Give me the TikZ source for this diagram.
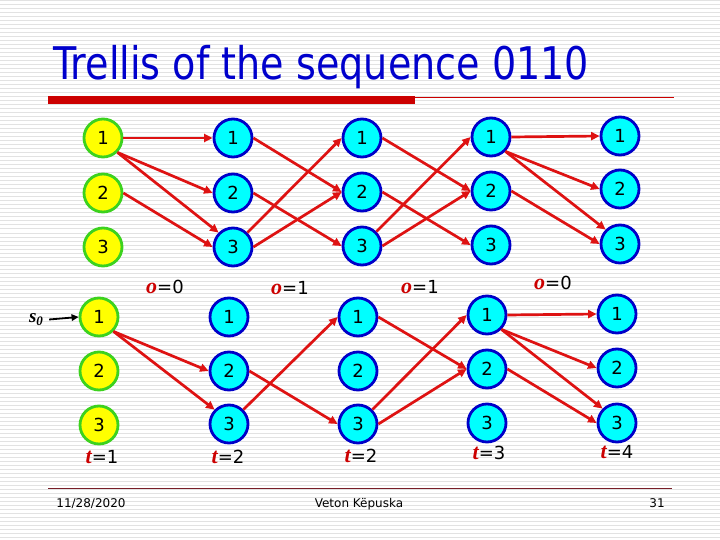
\documentclass[tikz,border=0pt]{standalone}
\usepackage{fontspec}
\setmainfont{DejaVu Sans}
\newfontfamily\tnr{Liberation Serif}
\usetikzlibrary{arrows.meta}
\definecolor{ared}{RGB}{222,18,18}
\definecolor{ngreen}{RGB}{60,210,30}
\definecolor{nblue}{RGB}{0,0,200}
\definecolor{ncyan}{RGB}{0,255,255}
\definecolor{nyellow}{RGB}{255,255,0}
\definecolor{tblue}{RGB}{0,0,204}
\definecolor{lred}{RGB}{204,0,0}
\definecolor{stripe}{RGB}{226,226,226}
\definecolor{footline}{RGB}{120,30,40}
\tikzset{
  basenode/.style={circle, line width=2.8pt, minimum size=38pt, inner sep=0pt, font=\fontsize{18}{18}\selectfont},
  ynode/.style={basenode, draw=ngreen, fill=nyellow},
  cnode/.style={basenode, draw=nblue, fill=ncyan},
  tedge/.style={draw=ared, line width=2.7pt, -{Triangle[length=8.5pt,width=8pt]}},
  lab/.style={anchor=base, inner sep=0pt, font=\fontsize{18}{18}\selectfont},
  foot/.style={anchor=base, inner sep=0pt, font=\fontsize{12}{12}\selectfont},
}
\newcommand{\olab}[1]{{\tnr\bfseries\itshape\fontsize{22}{22}\selectfont\textcolor{lred}{o}}=#1}
\newcommand{\tlab}[1]{{\tnr\bfseries\itshape\fontsize{22}{22}\selectfont\textcolor{lred}{t}}=#1}
\begin{document}
\begin{tikzpicture}[x=1pt,y=-1pt]
\useasboundingbox (0,0) rectangle (720,540);
\fill[white] (0,0) rectangle (720,540);
\foreach \yy in {1,5,...,537} \draw[stripe, line width=1pt] (0,\yy) -- (720,\yy);
% title
\node[anchor=base west, inner sep=0pt, text=tblue, font=\fontsize{45}{45}\selectfont] (title) at (53,80) {\resizebox{536pt}{\height}{Trellis of the sequence 0110}};
\fill[lred] (48,96.5) rectangle (415,104);
\draw[lred, line width=1pt] (415,98) -- (674,98);
% top trellis
\foreach \c/\x/\ya/\yb/\yc in {1/103/138/193/247, 2/233/138/193/247, 3/362/138/192/246, 4/491/137/191/245, 5/620/136/189/244}{
  \ifnum\c=1
    \node[ynode] (t\c1) at (\x,\ya) {1};
    \node[ynode] (t\c2) at (\x,\yb) {2};
    \node[ynode] (t\c3) at (\x,\yc) {3};
  \else
    \node[cnode] (t\c1) at (\x,\ya) {1};
    \node[cnode] (t\c2) at (\x,\yb) {2};
    \node[cnode] (t\c3) at (\x,\yc) {3};
  \fi
}
% bottom trellis
\foreach \c/\x/\ya/\yb/\yc in {1/99/317/371/425, 2/229/317/371/424, 3/358/317/371/424, 4/487/315/369/423, 5/617/314/368/423}{
  \ifnum\c=1
    \node[ynode] (b\c1) at (\x,\ya) {1};
    \node[ynode] (b\c2) at (\x,\yb) {2};
    \node[ynode] (b\c3) at (\x,\yc) {3};
  \else
    \node[cnode] (b\c1) at (\x,\ya) {1};
    \node[cnode] (b\c2) at (\x,\yb) {2};
    \node[cnode] (b\c3) at (\x,\yc) {3};
  \fi
}
% top edges
\foreach \a/\b in {1/2, 4/5}{
  \draw[tedge] (t\a1.east) -- (t\b1.west);
  \draw[tedge] (t\a1.south east) -- (t\b2.west);
  \draw[tedge] (t\a1.south east) -- (t\b3.north west);
  \draw[tedge] (t\a2.east) -- (t\b3.west);
}
\foreach \a/\b in {2/3, 3/4}{
  \draw[tedge] (t\a1.east) -- (t\b2.west);
  \draw[tedge] (t\a2.east) -- (t\b3.west);
  \draw[tedge] (t\a3.north east) -- (t\b1.west);
  \draw[tedge] (t\a3.east) -- (t\b2.west);
}
% bottom edges
\draw[tedge] (b11.south east) -- (b22.west);
\draw[tedge] (b11.south east) -- (b23.north west);
\draw[tedge] (b22.east) -- (b33.west);
\draw[tedge] (b23.north east) -- (b31.west);
\draw[tedge] (b31.east) -- (b42.west);
\draw[tedge] (b33.north east) -- (b41.west);
\draw[tedge] (b33.east) -- (b42.west);
\draw[tedge] (b41.east) -- (b51.west);
\draw[tedge] (b41.south east) -- (b52.west);
\draw[tedge] (b41.south east) -- (b53.north west);
\draw[tedge] (b42.east) -- (b53.west);
% s0
\node[inner sep=0pt, font=\tnr\bfseries\itshape\fontsize{19}{19}\selectfont] (s0) at (36,320) {s\raisebox{-0.35ex}{\fontsize{13}{13}\selectfont 0}};
\draw[line width=1.8pt, -{Triangle[length=7pt,width=6.5pt]}, shorten <=6pt] (s0.east) -- (b11.west);
% o labels
\node[lab] (o1) at (165,293) {\olab{0}};
\node[lab] (o2) at (290,294) {\olab{1}};
\node[lab] (o3) at (420,293) {\olab{1}};
\node[lab] (o4) at (553,289) {\olab{0}};
% t labels
\node[lab] (l1) at (102,463) {\tlab{1}};
\node[lab] (l2) at (228,463) {\tlab{2}};
\node[lab] (l3) at (361,462) {\tlab{2}};
\node[lab] (l4) at (489,459) {\tlab{3}};
\node[lab] (l5) at (617,458) {\tlab{4}};
% footer
\draw[footline, line width=0.8pt] (48,488) -- (672,488);
\node[foot] (date) at (91,507) {11/28/2020};
\node[foot] (auth) at (359,507) {Veton Këpuska};
\node[foot] (page) at (657,507) {31};
\end{tikzpicture}
\end{document}
